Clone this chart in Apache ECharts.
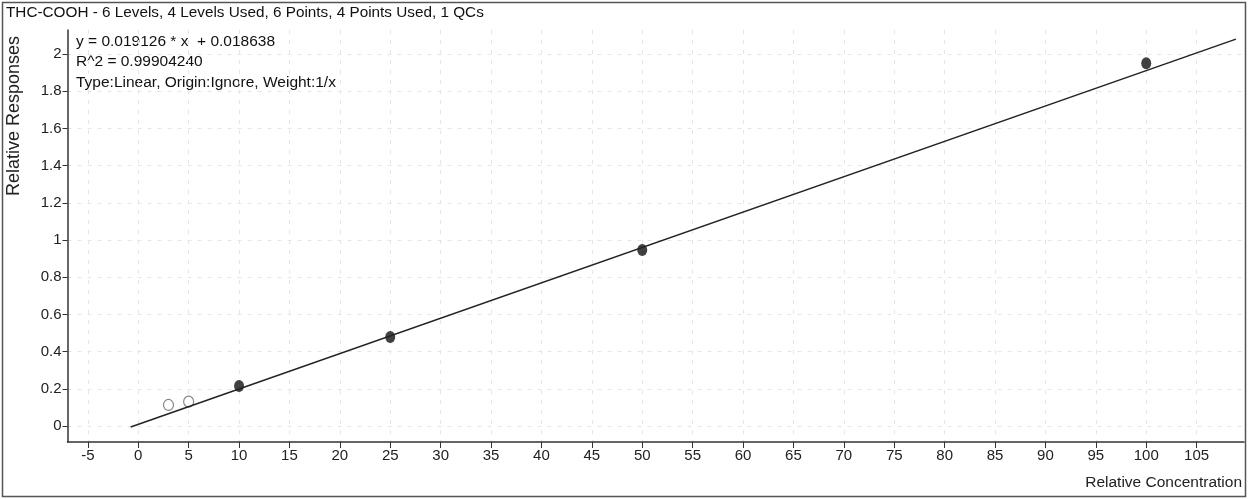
<!DOCTYPE html>
<html lang="en">
<head>
  <meta charset="UTF-8">
  <title>THC-COOH calibration</title>
  <style>
    body, html {
      background: #fff;
      margin: 0;
      padding: 0;
    }
    #main {
      width: 1249px;
      height: 499px;
    }
  </style>
</head>
<body>
  <div id="main"></div>
  <script src="https://cdn.jsdelivr.net/npm/echarts@6/dist/echarts.min.js"></script>
  <script>
    // data
    var usedPoints = [[10, 0.215], [25, 0.478], [50, 0.946], [100, 1.95]];
    var unusedPoints = [[3, 0.113], [5, 0.131]];
    var fitLine = [[-0.75, -0.005], [108.9, 2.08]];
    var xTicks = [-5, 0, 5, 10, 15, 20, 25, 30, 35, 40, 45, 50, 55, 60, 65, 70, 75, 80, 85, 90, 95, 100, 105];
    var yTicks = [0, 0.2, 0.4, 0.6, 0.8, 1, 1.2, 1.4, 1.6, 1.8, 2];
    var titleText = 'THC-COOH - 6 Levels, 4 Levels Used, 6 Points, 4 Points Used, 1 QCs';
    var fitLines = ['y = 0.019126 * x  + 0.018638', 'R^2 = 0.99904240', 'Type:Linear, Origin:Ignore, Weight:1/x'];

    var font = 'Liberation Sans, Arial, sans-serif';
    var chart = echarts.init(document.getElementById('main'));

    var option = {
      animation: false,
      backgroundColor: '#fff',
      grid: {
        left: 67.5,
        top: 30,
        right: 5,
        bottom: 57
      },
      xAxis: {
        type: 'value',
        min: -7.02,
        max: 109.7,
        axisLine: { onZero: false, lineStyle: { color: '#333', width: 1.5 } },
        axisTick: { customValues: xTicks, length: 6, lineStyle: { color: '#333' } },
        axisLabel: {
          customValues: xTicks,
          color: '#222',
          fontFamily: font,
          fontSize: 15,
          margin: 6
        },
        splitLine: {
          show: true,
          lineStyle: { color: '#e6e6e6', type: [4, 6] }
        }
      },
      yAxis: {
        type: 'value',
        min: -0.086,
        max: 2.129,
        axisLine: { show: true, onZero: false, lineStyle: { color: '#333', width: 1.5 } },
        axisTick: { show: true, customValues: yTicks, length: 5, lineStyle: { color: '#333' } },
        axisLabel: {
          customValues: yTicks,
          color: '#222',
          fontFamily: font,
          fontSize: 15,
          margin: 6
        },
        splitLine: {
          show: true,
          lineStyle: { color: '#e6e6e6', type: [4, 6] }
        }
      },
      graphic: [
        {
          type: 'rect',
          shape: { x: 2.5, y: 2.5, width: 1243, height: 494 },
          style: { fill: 'none', stroke: '#555', lineWidth: 1.5 },
          silent: true
        },
        {
          type: 'text', left: 6, top: 5,
          style: { text: titleText, fill: '#111', font: '15.3px ' + font }
        },
        {
          type: 'text', left: 76, top: 31,
          style: { text: fitLines.join('\n'), fill: '#111', font: '15.5px ' + font, lineHeight: 20.5 }
        },
        {
          type: 'text', x: 14, y: 116, rotation: Math.PI / 2,
          style: {
            text: 'Relative Responses', fill: '#222', font: '18px ' + font,
            align: 'center', verticalAlign: 'middle'
          }
        },
        {
          type: 'text', right: 7, top: 475,
          style: { text: 'Relative Concentration', fill: '#222', font: '15.5px ' + font }
        }
      ],
      series: [
        {
          name: 'fit',
          type: 'line',
          data: fitLine,
          showSymbol: false,
          lineStyle: { color: '#222', width: 1.5 },
          silent: true
        },
        {
          name: 'unused',
          type: 'scatter',
          data: unusedPoints,
          symbol: 'circle',
          symbolSize: [10, 11],
          itemStyle: { color: '#fff', borderColor: '#666', borderWidth: 1.2 }
        },
        {
          name: 'used',
          type: 'scatter',
          data: usedPoints,
          symbol: 'circle',
          symbolSize: [10, 12],
          itemStyle: { color: '#111' }
        }
      ]
    };

    chart.setOption(option);
  </script>
</body>
</html>
